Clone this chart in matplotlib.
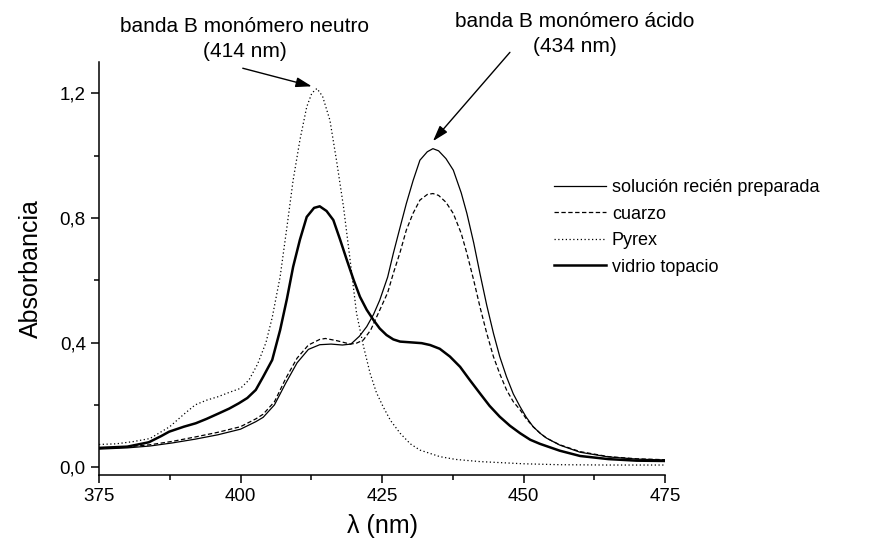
import matplotlib
matplotlib.use('Agg')
import matplotlib.pyplot as plt
from matplotlib.ticker import MultipleLocator, FuncFormatter

plt.rcParams['font.family'] = ['Liberation Sans', 'DejaVu Sans']

# solución recién preparada (thin solid)
fresh_x = [375, 380, 384, 388, 392, 396, 400, 402.7, 404, 406, 408, 410, 412, 414, 416, 418,
           419.5, 421, 422.3, 423.5, 424.6, 426, 427, 428.2, 429.3, 430.5, 431.7, 433, 434, 435,
           436.3, 437.6, 439, 440, 441.2, 442.3, 443.5, 444.7, 445.8, 447, 448.2, 449.4, 450.5,
           451.7, 453, 454.1, 456.4, 460, 465, 470, 475]
fresh_y = [0.058, 0.062, 0.068, 0.078, 0.09, 0.104, 0.122, 0.146, 0.16, 0.2, 0.27, 0.335, 0.378,
           0.393, 0.395, 0.392, 0.395, 0.42, 0.451, 0.49, 0.536, 0.61, 0.686, 0.77, 0.846, 0.92,
           0.985, 1.012, 1.022, 1.015, 0.99, 0.953, 0.88, 0.814, 0.72, 0.622, 0.52, 0.429, 0.355,
           0.29, 0.235, 0.194, 0.16, 0.13, 0.108, 0.093, 0.071, 0.048, 0.033, 0.026, 0.023]

# cuarzo (dashed)
quartz_x = [375, 380, 384, 388, 392, 396, 400, 402.7, 404, 406, 408, 410, 412, 414, 415, 417,
            419.4, 420.5, 421.7, 423, 424.6, 426, 427, 428.2, 429.3, 430.5, 431.7, 433, 434, 435,
            436.3, 437.6, 439, 440, 441.2, 442.3, 443.5, 444.7, 445.8, 447, 448.2, 449.4, 450.5,
            451.7, 453, 454.1, 456.4, 460, 465, 470, 475]
quartz_y = [0.06, 0.065, 0.072, 0.083, 0.097, 0.112, 0.13, 0.155, 0.17, 0.21, 0.285, 0.35, 0.392,
            0.41, 0.413, 0.406, 0.395, 0.398, 0.408, 0.44, 0.504, 0.56, 0.622, 0.69, 0.761, 0.815,
            0.857, 0.875, 0.878, 0.872, 0.85, 0.814, 0.75, 0.686, 0.6, 0.515, 0.43, 0.354, 0.3,
            0.248, 0.21, 0.184, 0.155, 0.13, 0.108, 0.093, 0.072, 0.05, 0.034, 0.027, 0.024]

# Pyrex (dotted)
pyrex_x = [375, 378, 381, 384, 387.5, 390, 392, 394, 396, 398, 400, 401.5, 403, 404.5, 405.6,
           407, 408.2, 409.3, 410.5, 411.7, 412.6, 413.5, 414.5, 415.8, 417, 418.2, 419.4, 420.5,
           421.7, 422.9, 424, 425.2, 426.5, 428.2, 430, 431.7, 435.2, 438, 442.3, 450, 456.4,
           465, 475]
pyrex_y = [0.073, 0.075, 0.082, 0.092, 0.13, 0.17, 0.2, 0.215, 0.226, 0.24, 0.253, 0.28, 0.33,
           0.4, 0.48, 0.611, 0.77, 0.921, 1.05, 1.156, 1.2, 1.215, 1.19, 1.113, 0.98, 0.835, 0.66,
           0.494, 0.39, 0.301, 0.24, 0.194, 0.15, 0.109, 0.075, 0.055, 0.034, 0.025, 0.018, 0.011,
           0.008, 0.007, 0.007]

# vidrio topacio (thick solid)
topaz_x = [375, 380, 383.8, 386, 387.4, 390, 392.1, 394, 396.2, 398, 399.7, 401.2, 402.7, 404,
           405.6, 407, 408.2, 409.3, 410.5, 411.7, 413, 414, 415.2, 416.4, 417.6, 418.8, 420,
           421.1, 422.3, 423.5, 424.6, 425.8, 427, 428.2, 430.5, 432, 433.5, 435.2, 437, 438.8,
           440.5, 442.3, 444, 445.8, 447.6, 449.4, 451.2, 452.9, 456.4, 460, 465, 470, 475]
topaz_y = [0.062, 0.066, 0.08, 0.1, 0.114, 0.13, 0.141, 0.155, 0.173, 0.188, 0.205, 0.222, 0.248,
           0.29, 0.344, 0.44, 0.54, 0.643, 0.73, 0.803, 0.832, 0.837, 0.822, 0.793, 0.73, 0.664,
           0.6, 0.547, 0.505, 0.472, 0.445, 0.424, 0.41, 0.403, 0.4, 0.398, 0.392, 0.38, 0.355,
           0.322, 0.28, 0.237, 0.197, 0.162, 0.133, 0.109, 0.088, 0.075, 0.053, 0.036, 0.026,
           0.021, 0.02]

labels = ['solución recién preparada', 'cuarzo', 'Pyrex', 'vidrio topacio']

W, H = 871, 549
fig = plt.figure(figsize=(W / 100, H / 100), dpi=100)
ax = fig.add_axes([99 / W, 1 - 475 / H, (665 - 99) / W, (475 - 62) / H])

ax.plot(fresh_x, fresh_y, color='black', lw=0.9, label=labels[0])
ax.plot(quartz_x, quartz_y, color='black', lw=0.9, linestyle=(0, (3.5, 2)), label=labels[1])
ax.plot(pyrex_x, pyrex_y, color='black', lw=0.9, linestyle=(0, (1, 2)), label=labels[2])
ax.plot(topaz_x, topaz_y, color='black', lw=1.8, label=labels[3])

ax.set_xlim(375, 475)
ax.set_ylim(-0.025, 1.3)
ax.spines['top'].set_visible(False)
ax.spines['right'].set_visible(False)
for s in ['left', 'bottom']:
    ax.spines[s].set_linewidth(1.1)
ax.xaxis.set_major_locator(MultipleLocator(25))
ax.xaxis.set_minor_locator(MultipleLocator(12.5))
ax.yaxis.set_major_locator(MultipleLocator(0.4))
ax.yaxis.set_minor_locator(MultipleLocator(0.2))
ax.yaxis.set_major_formatter(FuncFormatter(lambda v, p: ('%.1f' % v).replace('.', ',')))
ax.tick_params(which='major', direction='out', length=5.5, width=1.1, labelsize=13.5, pad=4)
ax.tick_params(which='minor', direction='out', length=3.5, width=1.1)

ax.set_xlabel('λ (nm)', fontsize=18, labelpad=6)
ax.set_ylabel('Absorbancia', fontsize=18, labelpad=12)

ax.legend(loc='upper left', bbox_to_anchor=(455 / 566, 1 - 117 / 413), frameon=False,
          fontsize=13, handlelength=2.9, handletextpad=0.3, labelspacing=0.53,
          borderaxespad=0, borderpad=0)

fig.text(245 / W, 1 - 39 / H, 'banda B monómero neutro\n(414 nm)', ha='center', va='center',
         fontsize=15, linespacing=1.35)
fig.text(575 / W, 1 - 34 / H, 'banda B monómero ácido\n(434 nm)', ha='center', va='center',
         fontsize=15, linespacing=1.35)

arrow = dict(arrowstyle='-|>,head_length=0.8,head_width=0.25', color='black', lw=1,
             shrinkA=0, shrinkB=0, mutation_scale=12)
ax.annotate('', xy=(412.6, 1.222), xytext=(400.4, 1.28), arrowprops=arrow, annotation_clip=False)
ax.annotate('', xy=(434.0, 1.046), xytext=(447.6, 1.331), arrowprops=arrow, annotation_clip=False)

fig.savefig('out.png', dpi=100)
